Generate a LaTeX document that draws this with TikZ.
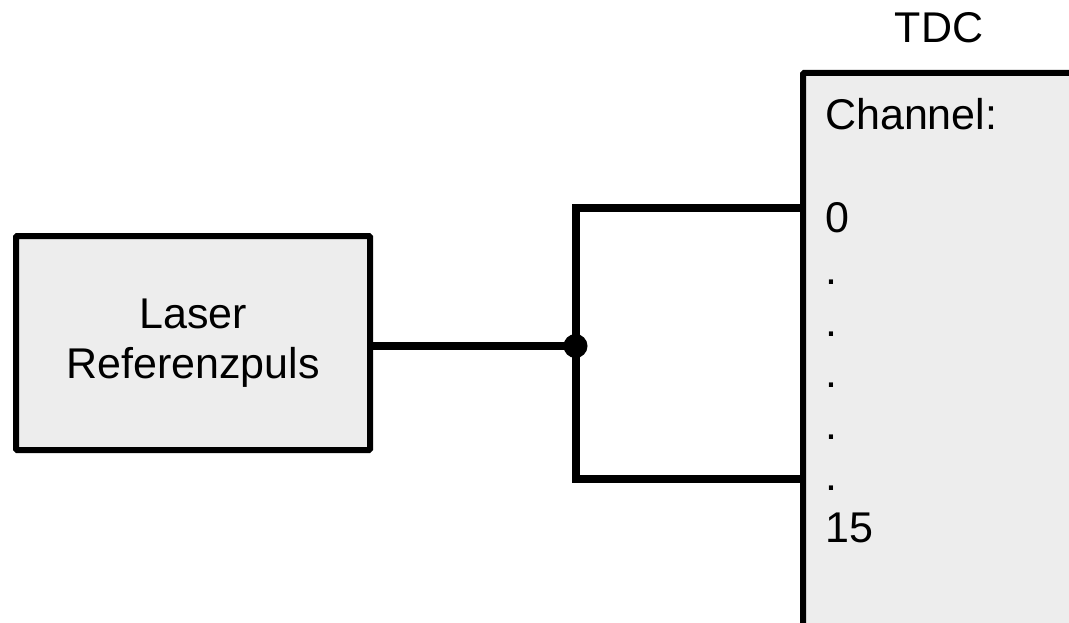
\documentclass[tikz,border=0pt]{standalone}
\usepackage{fontspec}
\setmainfont{Liberation Sans}
\definecolor{boxfill}{HTML}{EDEDED}
\begin{document}
\begin{tikzpicture}[x=1pt,y=-1pt,
  txt/.style={font=\fontsize{43}{50}\selectfont, text=black, inner sep=0pt},
  blockbox/.style={draw=black, line width=6pt, fill=boxfill, rounded corners=1pt, inner sep=0pt, align=center, font=\fontsize{43}{50}\selectfont},
  wire/.style={draw=black, line width=8pt, line cap=butt}
]
\useasboundingbox (0,0) rectangle (1069,623);
\fill[white] (0,0) rectangle (1069,623);
\clip (0,0) rectangle (1069,623);

% Laser box
\node[blockbox, minimum width=354pt, minimum height=214pt] (laser) at (193,343) {Laser\\Referenzpuls};

% TDC box (extends past right and bottom edges)
\node[blockbox, minimum width=300pt, minimum height=600pt, anchor=north west] (tdc) at (800,70) {};
\node[txt, anchor=base] (tdclabel) at (939,43) {TDC};

% channel texts
\node[txt, anchor=base west] (ch) at (825,130) {Channel:};
\node[txt, anchor=base west] (c0) at (825,233) {0};
\node[txt, anchor=base west] (d1) at (825,284.5) {.};
\node[txt, anchor=base west] (d2) at (825,336) {.};
\node[txt, anchor=base west] (d3) at (825,387.5) {.};
\node[txt, anchor=base west] (d4) at (825,439) {.};
\node[txt, anchor=base west] (d5) at (825,490.5) {.};
\node[txt, anchor=base west] (c15) at (825,542) {15};

% wiring
\coordinate (j) at (575.5,346);
\coordinate (p0) at (800,208);
\coordinate (p15) at (800,479);
\draw[wire] (laser.east |- j) -- (j);
\draw[wire, line join=miter] (p0) -| (j) |- (p15);
\fill[black] (j) circle (12pt);
\end{tikzpicture}
\end{document}
